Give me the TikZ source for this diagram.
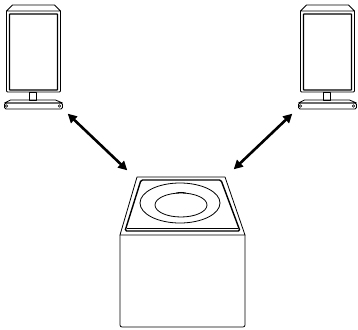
\documentclass[tikz,border=0pt]{standalone}
\usetikzlibrary{arrows.meta}

\begin{document}
\begin{tikzpicture}[
  x=1pt, y=-1pt,
  outline/.style={draw, line width=0.8pt, line join=round},
  frame/.style={draw, line width=1.4pt, rounded corners=1.5pt},
  link/.style={{Triangle[length=9pt,width=9pt]}-{Triangle[length=9pt,width=9pt]}, line width=2.6pt, shorten <=1pt, shorten >=1pt},
  speaker/.pic={
    % cap, cabinet and front panel
    \draw[outline] (-21,0) -- (21,0) -- (27,6) -- (-27,6) -- cycle;
    \draw[outline, rounded corners=1pt] (-27,6) -- (-27,87) -- (27,87) -- (27,6);
    \draw[frame, rounded corners=0.5pt] (-24,9) rectangle (24,85);
    % neck and stand
    \draw[outline] (-4,87) rectangle (3,95);
    \draw[outline] (-23,95) -- (22,95) -- (29,98) -- (-29,98) -- cycle;
    \draw[outline, rounded corners=1.5pt] (-29,98) rectangle (29,104);
    \draw[line width=0.6pt] (-27,101) circle (1.3) (26,101) circle (1.3);
  }
]
\useasboundingbox (0,0) rectangle (358,329);

% satellites
\pic (lspk) at (33.5,5) {speaker};
\pic (rspk) at (327.5,5) {speaker};

% subwoofer: top face
\draw[outline] (137,177) -- (225,177) -- (245,235) -- (120,235) -- cycle;
\draw[frame] (141,180) -- (221,180) -- (240,231) -- (125,231) -- cycle;
\draw[line width=0.6pt] (127,228) -- (238,228);
\draw[outline] (180,203) ellipse (40 and 20);
\draw[outline] (181,205) ellipse (26 and 12);
\draw[line width=0.8pt] (176,193) to[bend left=12] (186,193);
% subwoofer: cabinet
\draw[outline, rounded corners=2pt] (120,235) -- (120,327) -- (245,327) -- (245,235);

% link ends
\coordinate (lspk-foot) at (67,113);
\coordinate (rspk-foot) at (293,113);
\coordinate (sub-nw) at (128,171);
\coordinate (sub-ne) at (233,170);

\draw[link] (lspk-foot) -- (sub-nw);
\draw[link] (rspk-foot) -- (sub-ne);
\end{tikzpicture}
\end{document}
